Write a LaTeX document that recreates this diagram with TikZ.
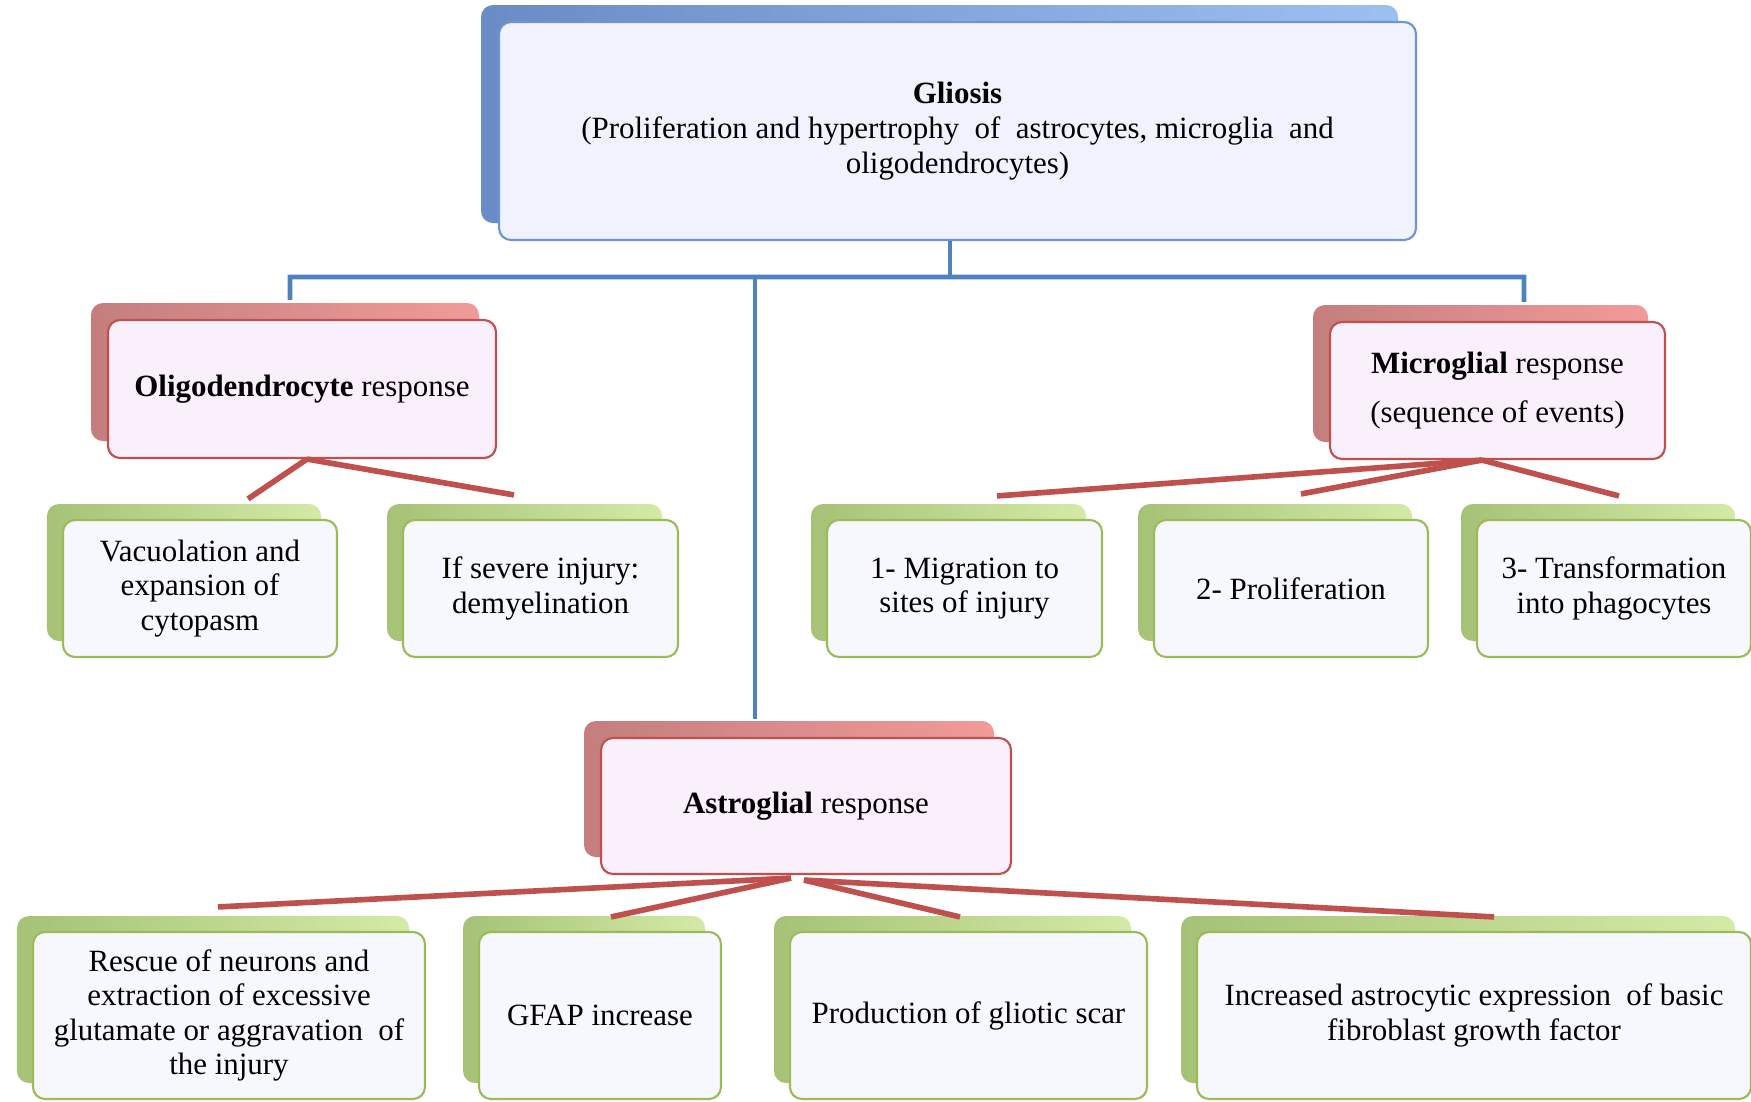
\documentclass[tikz,border=0pt]{standalone}
\usepackage{fontspec}
\setmainfont{Liberation Serif}
\usetikzlibrary{shadows}

\definecolor{bluelink}{HTML}{4F81BD}
\definecolor{redlink}{HTML}{C0504D}
\definecolor{glioedge}{HTML}{6F95CF}
\definecolor{gliofill}{HTML}{F0F3FD}
\definecolor{gliobackL}{HTML}{6A8CC6}
\definecolor{gliobackR}{HTML}{9CC0F0}
\definecolor{respedge}{HTML}{C0504D}
\definecolor{respfill}{HTML}{FAF0FC}
\definecolor{respbackL}{HTML}{C47E7E}
\definecolor{respbackR}{HTML}{F29A9A}
\definecolor{stepedge}{HTML}{9BBB59}
\definecolor{stepfill}{HTML}{F7F8FD}
\definecolor{stepbackL}{HTML}{A6C277}
\definecolor{stepbackR}{HTML}{D4EAA6}

\begin{document}
\begin{tikzpicture}[
	box/.style={draw, rounded corners=0.12cm, line width=0.6pt, align=center, inner sep=2pt,
		font=\fontsize{8.8}{9.85}\selectfont},
	gliobox/.style={box, draw=glioedge, fill=gliofill,
		copy shadow={shadow xshift=-0.18cm, shadow yshift=0.17cm, draw=none, left color=gliobackL, right color=gliobackR}},
	respbox/.style={box, draw=respedge, fill=respfill,
		copy shadow={shadow xshift=-0.17cm, shadow yshift=0.17cm, draw=none, left color=respbackL, right color=respbackR}},
	stepbox/.style={box, draw=stepedge, fill=stepfill, minimum height=1.37cm,
		copy shadow={shadow xshift=-0.16cm, shadow yshift=0.16cm, draw=none, left color=stepbackL, right color=stepbackR}},
	lowbox/.style={stepbox, minimum height=1.67cm},
	bluelink/.style={draw=bluelink, line width=1.3pt},
	redlink/.style={draw=redlink, line width=1.6pt}
]
	\useasboundingbox (0,0) rectangle (17.51,-11.02);

	% Top box
	\node (glio) at (9.575,-1.31) [gliobox, minimum width=9.17cm, minimum height=2.18cm]
		{\textbf{Gliosis}\\(Proliferation and hypertrophy\ \ of\ \ astrocytes, microglia\ \ and\\oligodendrocytes)};

	% Responses
	\node (olig) at (3.02,-3.89) [respbox, minimum width=3.88cm, minimum height=1.38cm] {\textbf{Oligodendrocyte} response};
	\node (micro) at (14.975,-3.905) [respbox, minimum width=3.35cm, minimum height=1.37cm] {\textbf{Microglial} response\\[4pt](sequence of events)};
	\node (astro) at (8.06,-8.06) [respbox, minimum width=4.10cm, minimum height=1.36cm] {\textbf{Astroglial} response};

	% Oligodendrocyte and microglial steps
	\node (vac) at (2.00,-5.885) [stepbox, minimum width=2.74cm] {Vacuolation and\\expansion of\\cytopasm};
	\node (sev) at (5.405,-5.885) [stepbox, minimum width=2.75cm] {If severe injury:\\demyelination};
	\node (mig) at (9.645,-5.885) [stepbox, minimum width=2.75cm] {1- Migration to\\sites of injury};
	\node (pro) at (12.91,-5.885) [stepbox, minimum width=2.74cm] {2- Proliferation};
	\node (tra) at (16.14,-5.885) [stepbox, minimum width=2.74cm] {3- Transformation\\into phagocytes};

	% Astroglial steps
	\node (res) at (2.29,-10.155) [lowbox, minimum width=3.92cm] {Rescue of neurons and\\extraction of excessive\\glutamate or aggravation\ \ of\\the injury};
	\node (gfap) at (6.00,-10.155) [lowbox, minimum width=2.42cm] {GFAP increase};
	\node (prod) at (9.685,-10.155) [lowbox, minimum width=3.57cm] {Production of gliotic scar};
	\node (inc) at (14.74,-10.155) [lowbox, minimum width=5.54cm] {Increased astrocytic expression\ \ of basic\\fibroblast growth factor};

	% Blue tree
	\coordinate (barL) at (2.90,-2.77);
	\coordinate (barC) at (9.50,-2.77);
	\coordinate (barM) at (7.55,-2.77);
	\coordinate (barR) at (15.24,-2.77);
	\draw[bluelink] ([xshift=-0.075cm]glio.south) -- (barC);
	\draw[bluelink] ([xshift=-0.12cm,yshift=0.19cm]olig.north) -- (barL) -- (barR) -- ([xshift=0.265cm,yshift=0.19cm]micro.north);
	\draw[bluelink] (barM) -- ([xshift=-0.51cm,yshift=0.18cm]astro.north);

	% Red links
	\draw[redlink] ([xshift=0.05cm]olig.south) -- ([xshift=0.48cm,yshift=0.20cm]vac.north);
	\draw[redlink] ([xshift=0.05cm]olig.south) -- ([xshift=-0.265cm,yshift=0.24cm]sev.north);

	\draw[redlink] ([xshift=-0.155cm]micro.south) -- ([xshift=0.325cm,yshift=0.23cm]mig.north);
	\draw[redlink] ([xshift=-0.155cm]micro.south) -- ([xshift=0.10cm,yshift=0.25cm]pro.north);
	\draw[redlink] ([xshift=-0.155cm]micro.south) -- ([xshift=0.05cm,yshift=0.23cm]tra.north);

	\draw[redlink] ([xshift=-0.15cm,yshift=-0.03cm]astro.south) -- ([xshift=-0.11cm,yshift=0.24cm]res.north);
	\draw[redlink] ([xshift=-0.15cm,yshift=-0.03cm]astro.south) -- ([xshift=0.11cm,yshift=0.14cm]gfap.north);
	\draw[redlink] ([xshift=-0.02cm,yshift=-0.05cm]astro.south) -- ([xshift=-0.085cm,yshift=0.14cm]prod.north);
	\draw[redlink] ([xshift=-0.02cm,yshift=-0.05cm]astro.south) -- ([xshift=0.20cm,yshift=0.14cm]inc.north);
\end{tikzpicture}
\end{document}
